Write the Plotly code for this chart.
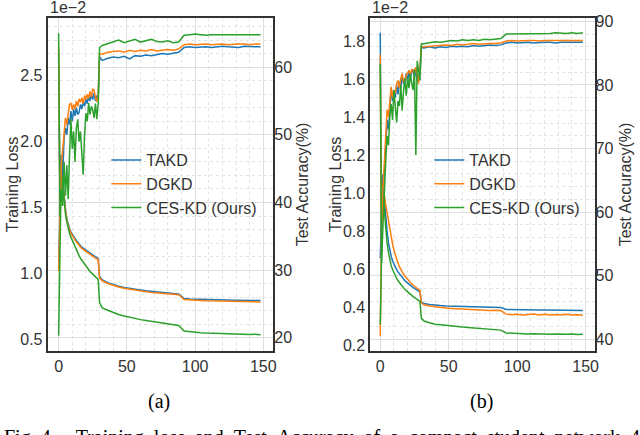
import plotly.graph_objects as go

# epochs sampled: every epoch up to 30, then every 4 epochs
EPOCHS = list(range(0, 31)) + list(range(32, 149, 4))
METHODS = ["TAKD", "DGKD", "CES-KD (Ours)"]
COLORS = ["#1f77b4", "#ff7f0e", "#2ca02c"]

# ---- panel (a): training loss (x1e-2) ----
loss_a_takd = [1.04, 1.55, 1.86, 1.70, 1.57, 1.49, 1.41, 1.37, 1.34, 1.315, 1.295, 1.28, 1.265, 1.25, 1.235,
               1.222, 1.21, 1.20, 1.192, 1.184, 1.176, 1.168, 1.16, 1.152, 1.145, 1.138, 1.132, 1.126, 1.12, 1.113, 0.975,
               0.952, 0.930, 0.915, 0.904, 0.895, 0.887, 0.880, 0.875, 0.869, 0.864, 0.860, 0.856, 0.852, 0.849, 0.846,
               0.811, 0.808, 0.806, 0.804, 0.803, 0.802, 0.801, 0.800, 0.799, 0.798, 0.797, 0.797, 0.796, 0.796, 0.795]
loss_a_dgkd = [1.02, 1.52, 1.84, 1.69, 1.56, 1.48, 1.40, 1.36, 1.33, 1.305, 1.285, 1.27, 1.255, 1.24, 1.225,
               1.213, 1.20, 1.19, 1.182, 1.174, 1.166, 1.158, 1.15, 1.143, 1.136, 1.129, 1.123, 1.117, 1.111, 1.105, 0.965,
               0.945, 0.924, 0.909, 0.898, 0.889, 0.881, 0.874, 0.868, 0.862, 0.857, 0.853, 0.849, 0.845, 0.842, 0.839,
               0.803, 0.799, 0.797, 0.795, 0.793, 0.792, 0.791, 0.790, 0.789, 0.788, 0.788, 0.787, 0.786, 0.786, 0.785]
loss_a_ces = [0.53, 1.30, 1.80, 1.68, 1.55, 1.45, 1.39, 1.34, 1.305, 1.275, 1.25, 1.225, 1.20, 1.175, 1.155,
              1.135, 1.115, 1.10, 1.085, 1.07, 1.052, 1.035, 1.025, 1.015, 1.005, 0.995, 0.985, 0.975, 0.965, 0.955, 0.78,
              0.740, 0.722, 0.705, 0.690, 0.678, 0.668, 0.659, 0.651, 0.644, 0.637, 0.630, 0.624, 0.619, 0.614, 0.607,
              0.565, 0.559, 0.555, 0.552, 0.549, 0.547, 0.545, 0.543, 0.542, 0.541, 0.540, 0.539, 0.538, 0.540, 0.537]

# ---- panel (a): test accuracy (%) ----
acc_a_takd = [62.0, 40.5, 47.0, 44.0, 49.5, 51.0, 50.0, 52.5, 51.5, 53.5, 52.0, 53.8, 52.8, 54.0, 53.0,
              53.3, 54.5, 53.8, 55.0, 54.2, 55.3, 54.6, 55.8, 55.0, 56.0, 55.2, 56.2, 55.0, 55.8, 55.3, 61.5,
              61.0, 61.3, 61.5, 61.4, 61.6, 61.2, 61.7, 61.6, 61.8, 61.7, 61.9, 62.0, 61.9, 62.1, 62.2,
              62.9, 63.0, 62.9, 63.0, 63.0, 62.9, 63.0, 63.1, 63.0, 63.0, 62.9, 63.1, 63.0, 63.0, 63.0]
acc_a_dgkd = [63.0, 39.5, 45.5, 48.0, 50.8, 52.5, 51.5, 53.5, 54.5, 54.7, 53.7, 54.5, 53.8, 55.0, 54.2,
              55.3, 54.8, 55.5, 54.6, 55.8, 55.2, 56.0, 55.4, 56.4, 55.6, 56.8, 56.6, 55.5, 54.9, 56.0, 62.0,
              61.9, 62.2, 62.3, 62.4, 62.2, 62.5, 62.3, 62.5, 62.4, 62.6, 62.4, 62.5, 62.6, 62.5, 62.7,
              63.3, 63.4, 63.3, 63.4, 63.4, 63.3, 63.4, 63.4, 63.3, 63.4, 63.4, 63.4, 63.3, 63.4, 63.4]
acc_a_ces = [65.0, 38.0, 42.0, 39.5, 46.0, 41.0, 45.5, 40.5, 47.0, 52.3, 47.9, 50.5, 46.0, 51.0, 52.3,
             49.0, 50.5, 46.5, 44.1, 50.0, 53.2, 52.0, 54.7, 53.0, 54.2, 53.7, 52.5, 54.6, 52.3, 54.7, 62.9,
             63.2, 63.5, 63.8, 64.0, 63.6, 63.9, 64.1, 63.7, 63.9, 64.1, 63.8, 63.7, 63.9, 63.6, 63.7,
             64.7, 64.8, 64.9, 64.8, 64.7, 64.8, 64.8, 64.7, 64.8, 64.8, 64.7, 64.8, 64.8, 64.7, 64.8]

# ---- panel (b): training loss (x1e-2) ----
loss_b_takd = [0.66, 0.95, 1.10, 0.98, 0.87, 0.80, 0.74, 0.70, 0.67, 0.645, 0.628, 0.614, 0.60, 0.588, 0.577,
               0.567, 0.558, 0.55, 0.542, 0.535, 0.529, 0.523, 0.517, 0.512, 0.507, 0.502, 0.497, 0.492, 0.487, 0.481, 0.43,
               0.422, 0.417, 0.413, 0.411, 0.409, 0.408, 0.407, 0.406, 0.405, 0.405, 0.404, 0.404, 0.403, 0.402, 0.401,
               0.390, 0.389, 0.389, 0.388, 0.388, 0.388, 0.387, 0.387, 0.387, 0.386, 0.386, 0.386, 0.386, 0.386, 0.385]
loss_b_dgkd = [0.25, 0.78, 0.99, 0.99, 0.94, 0.895, 0.855, 0.81, 0.77, 0.735, 0.70, 0.675, 0.655, 0.635, 0.615,
               0.60, 0.587, 0.575, 0.565, 0.556, 0.548, 0.54, 0.533, 0.526, 0.519, 0.512, 0.506, 0.50, 0.495, 0.489, 0.425,
               0.415, 0.409, 0.404, 0.401, 0.398, 0.396, 0.394, 0.392, 0.390, 0.388, 0.387, 0.386, 0.385, 0.386, 0.385,
               0.366, 0.363, 0.365, 0.362, 0.364, 0.366, 0.362, 0.365, 0.361, 0.364, 0.362, 0.365, 0.361, 0.363, 0.360]
loss_b_ces = [0.31, 0.80, 1.05, 0.91, 0.81, 0.74, 0.69, 0.65, 0.62, 0.60, 0.582, 0.567, 0.553, 0.541, 0.531,
              0.521, 0.512, 0.504, 0.496, 0.489, 0.482, 0.475, 0.469, 0.463, 0.458, 0.453, 0.448, 0.443, 0.438, 0.433, 0.345,
              0.330, 0.321, 0.313, 0.310, 0.306, 0.304, 0.301, 0.298, 0.296, 0.294, 0.291, 0.289, 0.287, 0.285, 0.282,
              0.267, 0.265, 0.264, 0.264, 0.262, 0.263, 0.261, 0.262, 0.260, 0.261, 0.259, 0.260, 0.262, 0.259, 0.260]

# ---- panel (b): test accuracy (%) ----
acc_b_takd = [88.2, 56.0, 62.0, 66.0, 70.0, 74.5, 73.0, 76.5, 79.5, 77.5, 78.8, 78.0, 80.0, 78.5, 80.5,
              79.5, 81.5, 80.2, 80.7, 81.8, 80.5, 82.3, 81.0, 82.0, 82.3, 81.2, 82.5, 80.5, 81.0, 82.0, 85.9,
              85.8, 86.0, 85.8, 86.0, 85.9, 86.1, 86.0, 86.1, 86.0, 86.2, 86.1, 86.2, 86.3, 86.2, 86.3,
              86.6, 86.7, 86.6, 86.7, 86.7, 86.6, 86.7, 86.7, 86.7, 86.6, 86.7, 86.7, 86.7, 86.6, 86.7]
acc_b_dgkd = [84.8, 55.0, 63.5, 68.0, 71.0, 76.1, 75.0, 77.5, 79.7, 78.0, 79.2, 78.7, 80.2, 80.7, 79.5,
              81.0, 81.8, 80.5, 80.7, 81.5, 82.0, 82.3, 81.5, 82.5, 82.3, 81.8, 82.8, 81.5, 80.2, 82.5, 86.0,
              86.0, 86.1, 86.1, 86.2, 86.3, 86.2, 86.4, 86.3, 86.4, 86.5, 86.4, 86.5, 86.5, 86.5, 86.6,
              86.9, 87.0, 86.9, 87.0, 87.0, 87.0, 86.9, 87.0, 87.0, 87.0, 87.0, 86.9, 87.0, 87.0, 87.0]
acc_b_ces = [83.3, 52.0, 58.0, 64.0, 68.0, 72.0, 70.5, 75.0, 77.0, 74.5, 79.2, 76.5, 74.1, 77.5, 76.7,
             80.0, 76.0, 79.0, 81.0, 78.3, 81.2, 79.5, 81.8, 80.2, 79.2, 82.5, 69.0, 83.8, 81.8, 80.7, 86.4,
             86.5, 86.7, 86.8, 86.7, 86.9, 87.0, 86.9, 87.1, 87.0, 87.1, 87.0, 87.2, 87.1, 87.2, 87.3,
             88.0, 88.0, 88.1, 88.0, 88.1, 88.1, 88.0, 88.1, 88.1, 88.2, 88.1, 88.1, 88.2, 88.1, 88.2]

CAPTION_WORDS = ["Fig. 4.", "", "Training", "loss", "and", "Test", "Accuracy", "of", "a", "compact",
                 "student", "network", "4"]

W, H = 640, 435
FONT = "Liberation Sans"
SERIF = "Liberation Serif"
TXT = "#333333"
FS = 16


def px(x):
    return x / W


def py(y):
    return 1 - y / H


fig = go.Figure()


def add_panel(losses, accs, xa, yl, yr, legend):
    for i, name in enumerate(METHODS):
        fig.add_trace(go.Scatter(x=EPOCHS, y=losses[i], xaxis=xa, yaxis=yl, mode="lines", name=name,
                                 line=dict(color=COLORS[i], width=1.5), showlegend=False))
    for i, name in enumerate(METHODS):
        fig.add_trace(go.Scatter(x=EPOCHS, y=accs[i], xaxis=xa, yaxis=yr, mode="lines", name=name,
                                 line=dict(color=COLORS[i], width=1.5), legend=legend))


add_panel([loss_a_takd, loss_a_dgkd, loss_a_ces], [acc_a_takd, acc_a_dgkd, acc_a_ces], "x", "y", "y2", "legend")
add_panel([loss_b_takd, loss_b_dgkd, loss_b_ces], [acc_b_takd, acc_b_dgkd, acc_b_ces], "x2", "y3", "y4", "legend2")

tickfont = dict(family=FONT, size=FS, color=TXT)
frame = dict(showline=True, linecolor="#333333", linewidth=2, mirror=True, ticks="", zeroline=False, tickfont=tickfont)


def xaxis(dom, rng, anchor):
    return dict(domain=dom, range=rng, anchor=anchor, tickvals=[0, 50, 100, 150], showgrid=True,
                gridcolor="#dedede", gridwidth=1,
                minor=dict(dtick=10, tick0=0, showgrid=True, gridcolor="#e3e3e3", griddash="dot"), **frame)


def loss_axis(dom, rng, dtick, anchor):
    return dict(domain=dom, range=rng, anchor=anchor, dtick=dtick, tickformat=".1f", showgrid=False, **frame)


def acc_axis(over, rng, anchor):
    return dict(overlaying=over, side="right", anchor=anchor, range=rng, dtick=10, showgrid=True,
                gridcolor="#dedede", showline=False, ticks="", zeroline=False, tickfont=tickfont,
                minor=dict(dtick=2, showgrid=True, gridcolor="#e3e3e3", griddash="dot"))


def note(text, x, y, size=FS, family=FONT, color=TXT, angle=0, xanchor="center", yanchor="middle"):
    return dict(text=text, x=px(x), y=py(y), xref="paper", yref="paper", showarrow=False, textangle=angle,
                xanchor=xanchor, yanchor=yanchor, font=dict(family=family, size=size, color=color))


ydom = [py(353), py(13)]
legend_style = dict(xanchor="left", yanchor="top", bgcolor="rgba(0,0,0,0)",
                    font=dict(family=FONT, size=FS, color=TXT))

# justified-looking caption: wider gaps between words
caption = " &nbsp;".join(w for w in CAPTION_WORDS if w)
caption = caption.replace("4. &nbsp;", "4.&nbsp;&nbsp; &nbsp;", 1)

fig.update_layout(
    width=W, height=H,
    margin=dict(l=0, r=0, t=0, b=0),
    plot_bgcolor="white", paper_bgcolor="white",
    font=dict(family=FONT, color=TXT),
    xaxis=xaxis([px(48), px(275)], [-8, 157.3], "y"),
    yaxis=loss_axis(ydom, [0.416, 2.935], 0.5, "x"),
    yaxis2=acc_axis("y", [18.1, 67.3], "x"),
    xaxis2=xaxis([px(372.7), px(598.3)], [-7.2, 156.5], "y3"),
    yaxis3=loss_axis(ydom, [0.174, 1.922], 0.2, "x2"),
    yaxis4=acc_axis("y3", [38.2, 90.57], "x2"),
    legend=dict(x=px(107), y=py(141), **legend_style),
    legend2=dict(x=px(432), y=py(141), **legend_style),
    annotations=[
        # axis titles
        note("Training Loss", 12, 183, angle=-90),
        note("Test Accuracy(%)", 304, 183, angle=-90),
        note("Training Loss", 337, 183, angle=-90),
        note("Test Accuracy(%)", 629, 183, angle=-90),
        # offset text of the loss axes
        note("1e\u22122", 48, 13, xanchor="left", yanchor="bottom"),
        note("1e\u22122", 372, 13, xanchor="left", yanchor="bottom"),
        # sub-figure labels and caption
        note("(a)", 160, 405, size=20, family=SERIF, color="black"),
        note("(b)", 485, 405, size=20, family=SERIF, color="black"),
        note(caption, 2, 428, size=20, family=SERIF, color="black", xanchor="left", yanchor="top"),
    ],
)

# drop the browser's default page margin so the figure sits at the window origin
fig.write_html("out.html", config={"displayModeBar": False},
               post_script="document.body.style.margin='0';")
